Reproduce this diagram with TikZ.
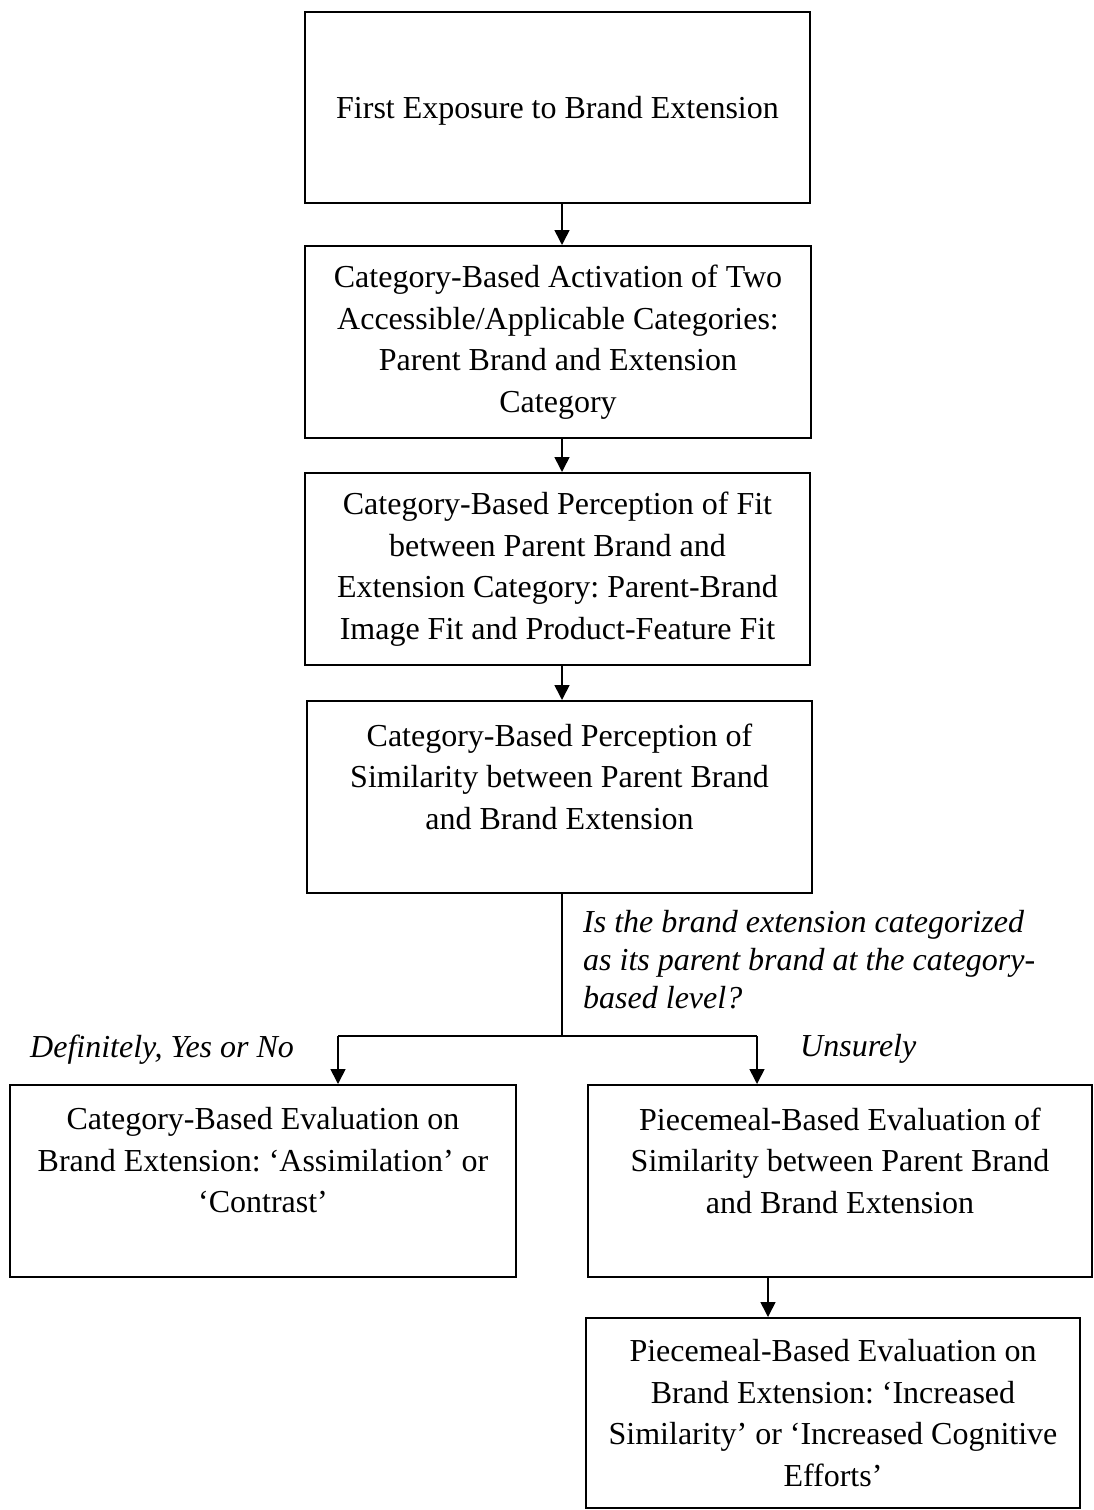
\documentclass[tikz,border=0pt]{standalone}
\usepackage{fontspec}
\setmainfont{Liberation Serif}
\usetikzlibrary{arrows.meta}
\frenchspacing

\begin{document}
\begin{tikzpicture}[x=1pt,y=-1pt,
  box/.style={draw=black, line width=2pt, rectangle, inner sep=0pt,
    align=center, font=\fontsize{32}{41.5}\selectfont},
  note/.style={inner sep=0pt, align=left, font=\fontsize{32}{38}\selectfont\itshape},
  link/.style={draw=black, line width=1.6pt},
  arr/.style={link, -{Triangle[width=15pt,length=15pt]}},
]
\useasboundingbox (0,0) rectangle (1094,1510);

% process boxes
\node[box, minimum width=505pt, minimum height=191pt, text depth=0pt] (b1) at (557.5,107.5)
  {First Exposure to Brand Extension};
\node[box, minimum width=506pt, minimum height=192pt] (b2) at (558,342)
  {Category-Based Activation of Two\\Accessible/Applicable Categories:\\Parent Brand and Extension\\Category};
\node[box, minimum width=505pt, minimum height=192pt] (b3) at (557.5,569)
  {Category-Based Perception of Fit\\between Parent Brand and\\Extension Category: Parent-Brand\\Image Fit and Product-Feature Fit};
\node[box, minimum width=505pt, minimum height=192pt] (b4) at (559.5,797)
  {Category-Based Perception of\\Similarity between Parent Brand\\and Brand Extension\\~};
\node[box, minimum width=506pt, minimum height=192pt] (b5) at (263,1181)
  {Category-Based Evaluation on\\Brand Extension: `Assimilation' or\\`Contrast'\\~};
\node[box, minimum width=504pt, minimum height=192pt] (b6) at (840,1181)
  {Piecemeal-Based Evaluation of\\Similarity between Parent Brand\\and Brand Extension\\~};
\node[box, minimum width=494pt, minimum height=190pt] (b7) at (833,1413)
  {Piecemeal-Based Evaluation on\\Brand Extension: `Increased\\Similarity' or `Increased Cognitive\\Efforts'};

% connector guides
\coordinate (spine) at (562,0);
\coordinate (split) at (562,1036);
\coordinate (leftdrop) at (338,1036);
\coordinate (rightdrop) at (757,1036);
\coordinate (lowdrop) at (768,0);

% main sequence
\draw[arr] (b1.south -| spine) -- (b2.north -| spine);
\draw[arr] (b2.south -| spine) -- (b3.north -| spine);
\draw[arr] (b3.south -| spine) -- (b4.north -| spine);

% decision branch
\draw[link] (b4.south -| spine) -- (split);
\draw[link] (leftdrop) -- (rightdrop);
\draw[arr] (leftdrop) -- (b5.north -| leftdrop);
\draw[arr] (rightdrop) -- (b6.north -| rightdrop);
\draw[arr] (b6.south -| lowdrop) -- (b7.north -| lowdrop);

% labels
\node[note, anchor=north west] (question) at (583,910)
  {Is the brand extension categorized\\as its parent brand at the category-\\based level?};
\node[note, anchor=west] (yesno) at (30,1050) {Definitely, Yes or No};
\node[note, anchor=west] (unsure) at (800,1049) {Unsurely};
\end{tikzpicture}
\end{document}
